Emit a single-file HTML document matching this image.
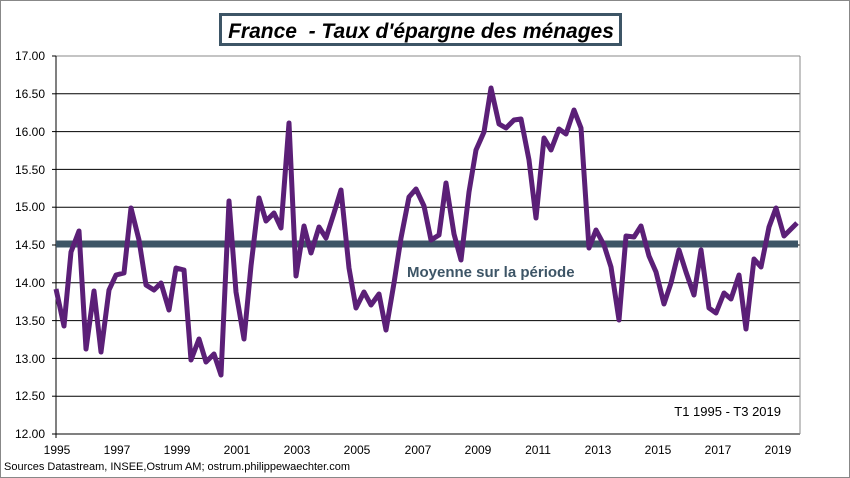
<!DOCTYPE html>
<html><head><meta charset="utf-8"><style>
body{margin:0;background:#fff}
svg{display:block}
</style></head><body>
<svg width="850" height="478" xmlns="http://www.w3.org/2000/svg" font-family="Liberation Sans, Arial, sans-serif">
<rect x="0.5" y="0.5" width="849" height="477" fill="#fff" stroke="#888"/>
<g stroke="#000" stroke-width="1">
<line x1="56" y1="56" x2="800" y2="56" stroke="#888"/>
<line x1="56" y1="93.8" x2="800" y2="93.8"/>
<line x1="56" y1="131.6" x2="800" y2="131.6"/>
<line x1="56" y1="169.4" x2="800" y2="169.4"/>
<line x1="56" y1="207.2" x2="800" y2="207.2"/>
<line x1="56" y1="245" x2="800" y2="245"/>
<line x1="56" y1="282.8" x2="800" y2="282.8"/>
<line x1="56" y1="320.6" x2="800" y2="320.6"/>
<line x1="56" y1="358.4" x2="800" y2="358.4"/>
<line x1="56" y1="396.2" x2="800" y2="396.2"/>
<line x1="56" y1="434" x2="800" y2="434"/>
<line x1="56" y1="56" x2="56" y2="438"/>
<line x1="800" y1="56" x2="800" y2="434" stroke="#888"/>
</g>
<g stroke="#000"><line x1="52" y1="56" x2="56" y2="56"/><line x1="52" y1="93.8" x2="56" y2="93.8"/><line x1="52" y1="131.6" x2="56" y2="131.6"/><line x1="52" y1="169.4" x2="56" y2="169.4"/><line x1="52" y1="207.2" x2="56" y2="207.2"/><line x1="52" y1="245" x2="56" y2="245"/><line x1="52" y1="282.8" x2="56" y2="282.8"/><line x1="52" y1="320.6" x2="56" y2="320.6"/><line x1="52" y1="358.4" x2="56" y2="358.4"/><line x1="52" y1="396.2" x2="56" y2="396.2"/><line x1="52" y1="434" x2="56" y2="434"/></g>
<g font-size="12" text-anchor="end" fill="#000">
<text x="45" y="60">17.00</text><text x="45" y="98">16.50</text><text x="45" y="136">16.00</text><text x="45" y="174">15.50</text><text x="45" y="211">15.00</text><text x="45" y="249">14.50</text><text x="45" y="287">14.00</text><text x="45" y="325">13.50</text><text x="45" y="363">13.00</text><text x="45" y="400">12.50</text><text x="45" y="438">12.00</text>
</g>
<g font-size="12" text-anchor="middle" fill="#000">
<text x="57" y="454">1995</text><text x="117" y="454">1997</text><text x="177" y="454">1999</text><text x="237" y="454">2001</text><text x="297" y="454">2003</text><text x="357" y="454">2005</text><text x="418" y="454">2007</text><text x="478" y="454">2009</text><text x="538" y="454">2011</text><text x="598" y="454">2013</text><text x="658" y="454">2015</text><text x="718" y="454">2017</text><text x="778" y="454">2019</text>
</g>
<line x1="56" y1="244" x2="798" y2="244" stroke="#3d5566" stroke-width="7"/>
<polyline fill="none" stroke="#5b1f77" stroke-width="5" stroke-linejoin="round" points="56,289 64,326 71,252 79,231 86,349 94,291 101,352 109,290 116,275 124,273 131,208 139,240 146,285 154,290 161,283 169,310 176,268 184,270 191,360 199,339 206,362 214,354 221,375 229,201 236,292 244,339 251,266 259,198 266,221 274,213 281,228 289,123 296,276 304,226 311,253 319,227 326,238 334,213 341,190 349,268 356,308 364,292 371,305 379,294 386,330 394,283 401,238 409,197 416,189 424,206 431,240 439,235 446,183 454,234 461,260 469,192 476,150 484,132 491,88 499,124 506,128 514,120 521,119 529,160 536,218 544,138 551,150 559,129 566,134 574,110 581,128 589,248 596,230 604,245 611,267 619,320 626,236 634,237 641,226 649,256 656,272 664,304 671,283 679,250 686,272 694,295 701,250 709,308 716,313 724,293 731,299 739,275 746,329 754,259 761,267 769,227 776,208 784,236 797,223"/>
<text x="407" y="277" font-size="15" font-weight="bold" fill="#3d5566">Moyenne sur la période</text>
<text x="781" y="416" font-size="13" text-anchor="end" fill="#000">T1 1995 - T3 2019</text>
<text x="4" y="470" font-size="11" fill="#000">Sources Datastream, INSEE,Ostrum AM; ostrum.philippewaechter.com</text>
<rect x="220.5" y="14.5" width="400" height="30" fill="#fff" stroke="#3d5566" stroke-width="3"/>
<text x="421" y="38" font-size="21" font-weight="bold" font-style="italic" text-anchor="middle" fill="#000" xml:space="preserve">France  - Taux d'épargne des ménages</text>
</svg>
</body></html>
